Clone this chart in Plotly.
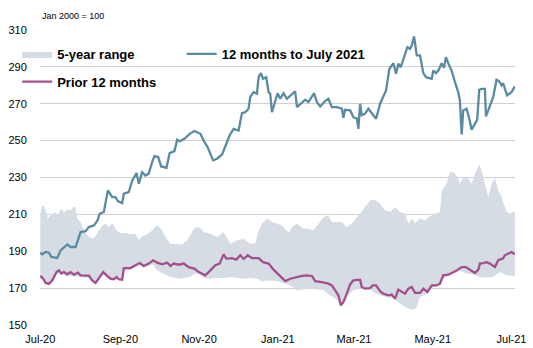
import pandas as pd
import plotly.graph_objects as go

# x values are days since 2020-07-01
START = pd.Timestamp("2020-07-01")

cur_days = [0, 1.5, 4.1, 6.7, 8.5, 13.1, 15.7, 20.9, 23.4, 27.3, 31.2, 35.0, 37.6, 41.5, 44.1, 46.1,
            49.2, 52.3, 55.7, 58.2, 60.0, 63.4, 64.7, 68.5, 71.2, 74.5, 76.3, 78.9, 81.4, 84.0, 86.6,
            88.4, 91.3, 93.6, 97.7, 100.2, 103.9, 106.0, 108.0, 111.6, 115.7, 119.3, 122.7, 124.0,
            127.1, 129.6, 133.8, 136.9, 140.8, 143.3, 146.6, 149.7, 153.6, 156.2, 158.8, 161.3,
            162.6, 165.2, 167.8, 169.1, 170.9, 172.5, 175.0, 176.8, 178.1, 179.4, 182.0, 183.8,
            185.8, 188.4, 191.0, 193.6, 197.4, 198.8, 202.6, 205.2, 207.7, 212.1, 214.2, 216.8,
            220.6, 223.2, 225.8, 229.7, 233.6, 234.8, 236.1, 240.0, 242.5, 245.2, 246.4, 247.7,
            249.0, 251.6, 254.1, 256.8, 260.1, 263.2, 265.7, 267.8, 270.4, 273.5, 275.6, 277.3,
            279.2, 282.5, 284.3, 286.4, 287.7, 289.5, 291.6, 294.1, 296.7, 298.8, 303.2, 304.4,
            306.5, 308.3, 310.9, 312.7, 314.2, 316.0, 318.6, 321.2, 323.7, 325.0, 326.4, 327.6,
            330.2, 332.3, 334.1, 336.7, 338.4, 340.0, 341.8, 344.4, 345.2, 347.7, 350.8, 353.4,
            355.5, 357.3, 358.6, 359.9, 361.6, 365.0, 367.6]
cur_vals = [189.2, 188.3, 189.6, 189.2, 186.9, 186.3, 190.5, 193.7, 192.3, 192.3, 200.4, 200.9, 203.1,
            204.0, 206.4, 210.4, 211.3, 223.0, 219.4, 219.4, 217.2, 216.1, 221.2, 222.1, 228.4,
            232.4, 226.6, 232.9, 231.1, 232.1, 238.3, 241.6, 241.1, 236.0, 235.3, 243.2, 244.3,
            250.5, 249.7, 251.0, 253.7, 255.2, 254.1, 253.7, 249.2, 246.5, 239.3, 240.2, 242.5,
            247.4, 252.8, 256.4, 255.5, 264.9, 265.4, 267.3, 273.6, 276.3, 275.4, 284.4, 286.6,
            283.5, 284.4, 276.3, 275.4, 265.4, 271.4, 275.7, 272.7, 275.7, 272.7, 274.5, 276.7,
            268.2, 270.9, 272.2, 270.9, 275.7, 270.9, 268.5, 271.4, 272.7, 268.2, 268.2, 267.3,
            262.4, 266.7, 266.4, 262.7, 261.9, 256.4, 270.0, 263.7, 264.6, 267.3, 264.9, 261.9,
            270.0, 274.5, 277.2, 289.0, 292.0, 286.3, 291.7, 289.8, 296.2, 300.7, 299.8, 301.6,
            306.5, 296.2, 296.2, 286.6, 284.4, 283.5, 288.0, 286.6, 288.0, 292.0, 289.5, 295.3,
            292.0, 288.0, 281.7, 276.3, 271.8, 253.4, 266.4, 267.3, 261.9, 255.9, 259.2, 261.3,
            277.6, 278.1, 278.1, 263.1, 267.8, 273.6, 283.0, 282.2, 279.9, 281.1, 278.1, 274.5,
            276.3, 279.4]

prior_days = [0, 2.3, 4.1, 6.7, 9.3, 12.6, 14.4, 16.2, 18.3, 20.9, 23.4, 26.0, 29.1, 31.2, 37.6, 40.2,
              42.8, 45.3, 48.7, 51.3, 54.4, 56.9, 59.0, 60.8, 63.4, 64.7, 69.8, 73.7, 77.0, 80.1,
              84.0, 87.4, 90.5, 94.4, 98.2, 100.8, 103.3, 107.2, 111.1, 114.9, 119.3, 122.7, 127.8,
              131.7, 135.6, 138.9, 142.0, 144.1, 148.5, 151.8, 154.9, 157.5, 160.6, 164.0, 169.1,
              172.5, 176.8, 180.7, 185.3, 189.7, 193.6, 198.8, 202.6, 206.5, 210.4, 212.9, 218.1,
              223.2, 225.8, 228.4, 230.9, 232.8, 234.8, 237.4, 240.0, 242.5, 247.7, 249.0, 251.6,
              255.5, 257.5, 260.1, 263.2, 265.7, 269.6, 272.2, 274.8, 277.3, 280.0, 282.5, 285.1,
              287.7, 290.3, 294.1, 296.7, 299.8, 303.2, 307.0, 309.6, 312.1, 316.0, 318.6, 322.5,
              326.4, 329.7, 332.8, 336.7, 339.3, 340.5, 343.1, 345.7, 348.3, 352.2, 354.7, 358.2,
              359.9, 363.2, 365.0, 367.6]
prior_vals = [176.6, 175.1, 172.8, 172.4, 174.2, 178.7, 179.6, 177.9, 178.7, 177.5, 178.7, 177.3, 178.4,
              176.9, 176.8, 174.2, 172.8, 175.1, 178.7, 176.9, 175.1, 174.8, 176.0, 174.8, 174.6,
              180.9, 180.9, 182.4, 183.6, 182.0, 183.3, 185.1, 183.8, 182.9, 183.8, 182.0, 183.3,
              182.7, 183.3, 181.4, 180.6, 178.7, 176.9, 179.6, 182.4, 183.3, 188.3, 186.0, 186.3,
              185.5, 187.8, 185.8, 187.8, 186.3, 186.3, 184.1, 183.3, 180.0, 176.9, 173.8, 175.1,
              176.0, 176.6, 176.9, 176.6, 173.8, 173.3, 172.4, 171.5, 168.8, 166.1, 160.7, 162.5,
              167.0, 172.0, 174.2, 174.6, 170.6, 169.7, 170.0, 171.5, 171.5, 168.3, 167.0, 166.1,
              166.5, 164.3, 169.2, 167.9, 167.0, 169.7, 170.6, 167.4, 167.4, 169.7, 167.9, 171.5,
              171.5, 172.4, 176.9, 177.3, 178.2, 179.6, 181.4, 181.4, 180.0, 178.2, 180.0, 183.3,
              183.6, 184.1, 183.3, 181.4, 185.1, 186.0, 187.8, 189.0, 189.6, 188.3]

hi_days = [0, 1.5, 3.3, 5.9, 8.5, 11.8, 13.6, 16.2, 18.3, 20.9, 23.4, 25.5, 27.3, 28.6, 31.2, 33.7, 37.6,
           41.5, 45.3, 48.0, 50.5, 53.1, 55.7, 59.0, 62.1, 66.0, 69.8, 73.7, 76.3, 78.9, 82.8, 86.6,
           89.9, 91.7, 94.4, 96.9, 100.8, 106.0, 109.8, 113.7, 116.2, 118.8, 121.4, 124.0, 126.5,
           131.7, 136.9, 142.0, 147.2, 152.4, 157.5, 162.6, 166.5, 169.1, 171.7, 175.6, 179.4, 183.3,
           187.2, 192.3, 194.9, 198.8, 203.9, 207.7, 211.6, 215.5, 219.3, 223.2, 225.8, 229.7, 233.6,
           237.4, 242.5, 246.4, 247.7, 251.6, 255.5, 259.3, 263.2, 267.1, 270.9, 274.8, 278.6, 282.5,
           285.1, 287.7, 290.3, 294.1, 298.0, 300.5, 303.2, 305.7, 309.6, 310.9, 314.8, 317.3, 319.9,
           323.7, 325.0, 327.6, 331.5, 334.1, 336.7, 340.0, 341.8, 344.4, 347.0, 349.6, 352.2, 354.7,
           357.3, 361.2, 363.7, 366.3, 367.6]
hi_vals = [210.4, 214.9, 214.0, 207.7, 210.0, 211.3, 209.5, 213.1, 211.3, 212.5, 212.2, 214.0, 214.0,
           207.7, 205.8, 201.3, 197.7, 196.8, 201.3, 204.0, 204.9, 203.1, 205.3, 201.3, 199.9, 199.9,
           199.2, 199.5, 195.9, 198.1, 199.2, 201.3, 204.0, 203.5, 201.3, 197.7, 194.1, 193.7, 193.7,
           195.9, 198.6, 202.2, 203.1, 202.8, 200.4, 199.5, 197.7, 200.4, 194.1, 195.9, 196.8, 194.1,
           194.1, 201.3, 204.9, 207.7, 205.8, 204.9, 204.0, 199.9, 203.1, 204.9, 202.2, 202.2, 201.3,
           204.9, 208.5, 209.5, 205.8, 206.0, 205.8, 203.1, 205.8, 209.5, 210.4, 214.0, 217.6, 218.0,
           215.8, 212.2, 211.3, 214.0, 211.3, 210.4, 204.9, 207.7, 205.3, 207.7, 206.7, 208.5, 209.5,
           210.4, 211.3, 223.0, 226.6, 232.9, 232.9, 230.2, 226.6, 230.2, 229.4, 226.6, 232.1, 237.1,
           233.9, 226.6, 219.4, 226.6, 229.9, 223.0, 219.4, 211.3, 210.4, 211.3, 211.0]

lo_days = [0, 2.3, 4.1, 6.7, 9.3, 12.6, 14.4, 20.9, 26.0, 31.2, 37.6, 40.2, 42.8, 45.3, 48.7, 51.3, 54.4,
           59.0, 63.4, 64.7, 69.8, 73.7, 77.0, 80.1, 84.0, 87.4, 90.5, 94.4, 98.2, 100.8, 107.2, 111.1,
           115.7, 119.3, 122.7, 126.5, 131.7, 136.9, 142.0, 147.2, 152.4, 157.5, 162.6, 169.1, 171.7,
           175.0, 182.7, 185.8, 193.6, 198.8, 208.9, 219.3, 222.5, 230.3, 232.8, 235.4, 237.4, 242.5,
           247.7, 255.5, 258.0, 263.2, 268.3, 273.5, 278.6, 283.7, 288.9, 291.5, 294.1, 299.3, 304.4,
           309.6, 312.1, 314.8, 319.9, 325.0, 330.2, 335.3, 340.5, 345.7, 350.8, 356.0, 361.2, 367.6]
lo_vals = [175.5, 174.0, 172.0, 171.5, 173.5, 177.5, 178.5, 176.5, 176.5, 176.0, 175.5, 173.5, 172.0,
           174.0, 177.5, 176.0, 174.2, 175.0, 173.8, 180.0, 180.0, 181.5, 182.5, 181.0, 182.0, 183.0,
           179.6, 178.2, 176.9, 176.0, 175.1, 175.5, 176.0, 177.5, 178.0, 175.5, 175.1, 175.5, 175.5,
           176.0, 175.5, 175.1, 175.5, 175.0, 173.5, 174.2, 173.8, 173.3, 171.5, 168.8, 169.7, 169.0,
           167.0, 163.4, 160.2, 162.0, 165.2, 168.8, 169.7, 169.7, 167.9, 166.1, 165.2, 164.3, 161.6,
           159.4, 158.3, 159.5, 165.2, 167.0, 170.6, 172.0, 175.0, 176.5, 178.0, 179.6, 177.8, 177.5,
           176.0, 175.7, 176.0, 178.7, 176.9, 176.4]

y_ticks = [150, 170, 190, 210, 230, 250, 270, 290, 310]


def to_dates(days):
    return [START + pd.Timedelta(days=d) for d in days]


BAND = "#D6DCE4"
BLUE = "#5A8BA1"
PURPLE = "#A24F8C"
FONT = "Liberation Sans, Arial, sans-serif"

fig = go.Figure()
fig.add_trace(go.Scatter(x=to_dates(lo_days), y=lo_vals, mode="lines", line=dict(width=0, color=BAND),
                         showlegend=False, hoverinfo="skip"))
fig.add_trace(go.Scatter(x=to_dates(hi_days), y=hi_vals, mode="lines", line=dict(width=0, color=BAND),
                         fill="tonexty", fillcolor=BAND, name="5-year range", legend="legend"))
fig.add_trace(go.Scatter(x=to_dates(prior_days), y=prior_vals, mode="lines",
                         line=dict(width=2.3, color=PURPLE), name="Prior 12 months", legend="legend3"))
fig.add_trace(go.Scatter(x=to_dates(cur_days), y=cur_vals, mode="lines",
                         line=dict(width=2.3, color=BLUE), name="12 months to July 2021", legend="legend2"))

legfont = dict(family=FONT, size=13, color="#000000", weight="bold")
common_leg = dict(xref="paper", yref="paper", xanchor="left", yanchor="middle",
                  bgcolor="rgba(0,0,0,0)", font=legfont, borderwidth=0)

fig.update_layout(
    width=533, height=348,
    margin=dict(l=40, r=18, t=30, b=23, autoexpand=False),
    paper_bgcolor="white", plot_bgcolor="white",
    showlegend=True,
    legend=dict(x=-0.048, y=0.9186, **common_leg),
    legend2=dict(x=0.2983, y=0.9186, **common_leg),
    legend3=dict(x=-0.048, y=0.8247, **common_leg),
    xaxis=dict(
        type="date", automargin=False,
        range=[START - pd.Timedelta(hours=6), START + pd.Timedelta(days=367.7)],
        tick0="2020-07-01", dtick="M2", tickformat="%b-%y",
        showgrid=False, zeroline=False, showline=False,
        ticks="outside", ticklen=4, tickcolor="rgba(0,0,0,0)",
        tickfont=dict(family=FONT, size=11, color="#000000"),
    ),
    yaxis=dict(
        range=[150, 310], tickvals=y_ticks, automargin=False,
        showgrid=True, gridcolor="#D0D0D0", gridwidth=1,
        zeroline=False, showline=False,
        ticks="outside", ticklen=10, tickcolor="rgba(0,0,0,0)",
        tickfont=dict(family=FONT, size=11, color="#000000"),
    ),
    annotations=[dict(text="Jan 2000 = 100", xref="paper", yref="paper", x=0, y=1.0485,
                      xanchor="left", yanchor="middle", showarrow=False,
                      font=dict(family=FONT, size=9, color="#000000"))],
)

fig.write_html("out.html")
